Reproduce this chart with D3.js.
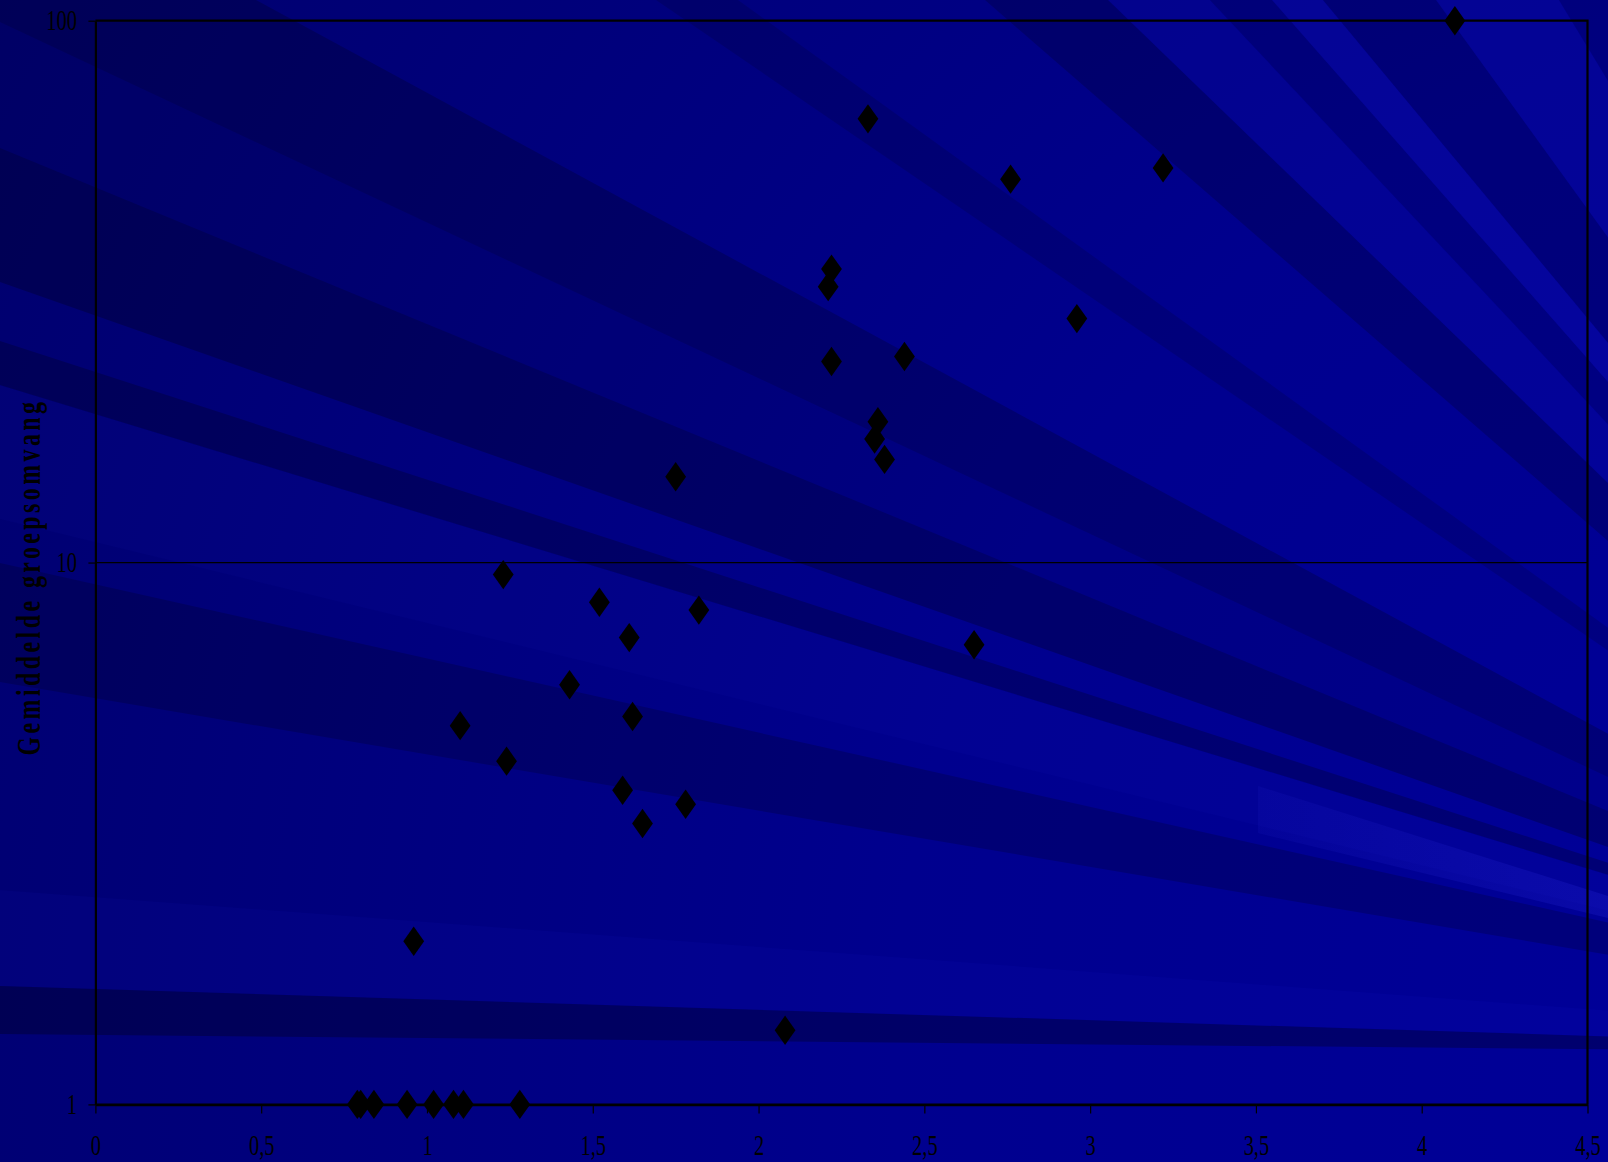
<!DOCTYPE html>
<html>
<head>
<meta charset="utf-8">
<script src="https://cdn.jsdelivr.net/npm/d3@7"></script>
<style>
  html, body { margin: 0; padding: 0; background: #00007a; overflow: hidden; }
  svg { display: block; }
</style>
</head>
<body>
<svg id="chart" width="1608" height="1162"></svg>
<script>
// Gemiddelde groepsomvang (log-schaal) tegen de x-waarde per waarneming
const xWaarden = [
  0.79, 0.80, 0.84, 0.94, 1.02, 1.08, 1.11, 1.28,
  0.96, 2.08, 1.10, 1.24, 1.23, 1.43, 1.52, 1.59,
  1.61, 1.62, 1.65, 1.75, 1.78, 1.82, 2.21, 2.22,
  2.22, 2.33, 2.35, 2.36, 2.38, 2.44, 2.65, 2.76,
  2.96, 3.22, 4.10
];
const groepsomvang = [
  1, 1, 1, 1, 1, 1, 1, 1,
  2.0, 1.37, 5.0, 4.3, 9.5, 5.95, 8.45, 3.8,
  7.27, 5.2, 3.3, 14.4, 3.58, 8.17, 32.3, 34.8,
  23.5, 65.9, 16.9, 18.2, 15.5, 24.0, 7.05, 51.0,
  28.2, 53.5, 100
];
const xTickWaarden = [0, 0.5, 1, 1.5, 2, 2.5, 3, 3.5, 4, 4.5];
const yTickWaarden = [1, 10, 100];
const yTitel = "Gemiddelde groepsomvang";

const W = 1608, H = 1162;
const svg = d3.select("#chart");
const defs = svg.append("defs");

// ---------- achtergrond: donkerblauw met stralenbundels ----------
const glow = defs.append("radialGradient")
  .attr("id", "glow").attr("gradientUnits", "userSpaceOnUse")
  .attr("cx", 1950).attr("cy", 1060).attr("r", 2350);
[[0, "#00009c"], [0.45, "#00008e"], [0.8, "#000076"], [1, "#00006a"]]
  .forEach(([o, c]) => glow.append("stop").attr("offset", o).attr("stop-color", c));

const streak = defs.append("linearGradient")
  .attr("id", "streak").attr("gradientUnits", "userSpaceOnUse")
  .attr("x1", 1258).attr("y1", 0).attr("x2", 1608).attr("y2", 0);
streak.append("stop").attr("offset", 0).attr("stop-color", "#3c3cff").attr("stop-opacity", 0.07);
streak.append("stop").attr("offset", 1).attr("stop-color", "#3c3cff").attr("stop-opacity", 0.16);

const bg = svg.append("g");
bg.append("rect").attr("width", W).attr("height", H).attr("fill", "url(#glow)");

// bundels lopen vanuit één punt rechtsonder buiten beeld
const focus = [2200, 1055];
const hoek = p => Math.atan2(p[1] - focus[1], p[0] - focus[0]);
function wig(p1, p2) {
  const R = 6000, a1 = hoek(p1), a2 = hoek(p2);
  return [focus,
    [focus[0] + R * Math.cos(a1), focus[1] + R * Math.sin(a1)],
    [focus[0] + R * Math.cos(a2), focus[1] + R * Math.sin(a2)]];
}
const bundels = [
  { van: [0, 1034], tot: [0, 986], kleur: "#000000", op: 0.27 },
  { van: [0, 986],  tot: [0, 890], kleur: "#3030ff", op: 0.05 },
  { van: [0, 682],  tot: [0, 563], kleur: "#000000", op: 0.18 },
  { van: [0, 519],  tot: [0, 385], kleur: "#3030ff", op: 0.04 },
  { van: [0, 385],  tot: [0, 341], kleur: "#000000", op: 0.22 },
  { van: [0, 282],  tot: [0, 148], kleur: "#000000", op: 0.24 },
  { van: [0, 148],  tot: [0, 22],  kleur: "#000000", op: 0.07 },
  { van: [0, 22],   tot: [256, 0], kleur: "#000000", op: 0.2 },
  { van: [656, 0],  tot: [738, 0], kleur: "#000000", op: 0.13 },
  { van: [985, 0],  tot: [1108, 0], kleur: "#000000", op: 0.19 },
  { van: [1108, 0], tot: [1210, 0], kleur: "#3030ff", op: 0.06 },
  { van: [1210, 0], tot: [1272, 0], kleur: "#000000", op: 0.11 },
  { van: [1272, 0], tot: [1323, 0], kleur: "#3030ff", op: 0.11 },
  { van: [1323, 0], tot: [1436, 0], kleur: "#000000", op: 0.14 },
  { van: [1436, 0], tot: [1559, 0], kleur: "#3030ff", op: 0.08 },
  { van: [1559, 0], tot: [1608, 0], kleur: "#000000", op: 0.10 }
];
bg.selectAll("polygon.bundel").data(bundels).join("polygon")
  .attr("class", "bundel")
  .attr("points", d => wig(d.van, d.tot).map(p => p.join(",")).join(" "))
  .attr("fill", d => d.kleur).attr("fill-opacity", d => d.op);

// lichte streep rechtsonder
bg.append("polygon")
  .attr("points", "1258,786 1608,896 1608,918 1258,833")
  .attr("fill", "url(#streak)");

// ---------- schalen ----------
const x = d3.scaleLinear().domain([0, 4.5]).range([95.4, 1587.5]);
const y = d3.scaleLog().domain([1, 100]).range([1104.4, 20.7]);

const plot = svg.append("g");

// hoofdrasterlijn bij 10
plot.append("line")
  .attr("x1", x(0)).attr("x2", x(4.5))
  .attr("y1", y(10)).attr("y2", y(10))
  .attr("stroke", "#000").attr("stroke-width", 1.2);

// kader boven en rechts
plot.append("path")
  .attr("d", `M${x(0)},${y(100)}H${x(4.5)}V${y(1)}`)
  .attr("fill", "none").attr("stroke", "#000").attr("stroke-width", 2.2);

const kommaFormaat = d => String(d).replace(".", ",");

// x-as
const xAs = plot.append("g")
  .attr("transform", `translate(0,${y(1)})`)
  .call(d3.axisBottom(x).tickValues(xTickWaarden).tickSize(9).tickSizeOuter(0).tickFormat(kommaFormaat));
xAs.select(".domain").attr("stroke", "#000").attr("stroke-width", 2.6);
xAs.selectAll(".tick line").attr("stroke", "#000").attr("stroke-width", 1.2);
xAs.selectAll(".tick text")
  .attr("y", null).attr("dy", null)
  .attr("transform", "translate(0,50.6) scale(0.68,1)")
  .attr("text-anchor", "middle")
  .attr("fill", "#000")
  .style("font-family", "'Liberation Serif', 'Times New Roman', serif")
  .style("font-size", "30px");

// y-as
const yAs = plot.append("g")
  .attr("transform", `translate(${x(0)},0)`)
  .call(d3.axisLeft(y).tickValues(yTickWaarden).tickSize(7).tickSizeOuter(0).tickFormat(d3.format("d")));
yAs.select(".domain").attr("stroke", "#000").attr("stroke-width", 2.2);
yAs.selectAll(".tick line").attr("stroke", "#000").attr("stroke-width", 1.2);
yAs.selectAll(".tick text")
  .attr("x", null).attr("dy", null)
  .attr("transform", "translate(-18.5,8.7) scale(0.68,1)")
  .attr("text-anchor", "end")
  .attr("fill", "#000")
  .style("font-family", "'Liberation Serif', 'Times New Roman', serif")
  .style("font-size", "30px");
svg.selectAll(".domain, .tick").attr("font-family", null).attr("font-size", null);

// astitel
plot.append("text")
  .attr("transform", "translate(39.5,577) rotate(-90) scale(0.7,1)")
  .attr("text-anchor", "middle")
  .attr("fill", "#000")
  .style("font-family", "'Liberation Serif', 'Times New Roman', serif")
  .style("font-weight", "bold")
  .style("font-size", "34px")
  .style("letter-spacing", "5px")
  .text(yTitel);

// ---------- punten (ruiten) ----------
const ruit = {
  draw(ctx) {
    const w = 10.4, h = 14.7;
    ctx.moveTo(0, -h); ctx.lineTo(w, 0); ctx.lineTo(0, h); ctx.lineTo(-w, 0); ctx.closePath();
  }
};
const punten = xWaarden.map((v, i) => ({ x: v, y: groepsomvang[i] }));
plot.append("g").selectAll("path").data(punten).join("path")
  .attr("transform", d => `translate(${x(d.x)},${y(d.y)})`)
  .attr("d", d3.symbol().type(ruit))
  .attr("fill", "#000");
</script>
</body>
</html>
